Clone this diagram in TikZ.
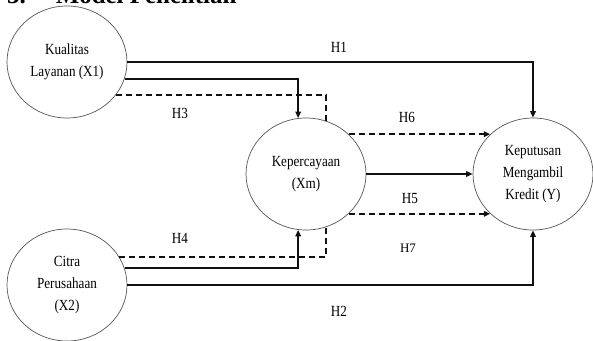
\documentclass[tikz,border=0pt]{standalone}
\usepackage{fontspec}
\setmainfont{Liberation Serif}
\newfontfamily\lblfont[FakeStretch=0.85]{Liberation Serif}
\usepackage{tikz}
\usetikzlibrary{arrows.meta,positioning,calc,shapes.geometric}
\definecolor{Ink}{HTML}{111111}
\definecolor{Rim}{HTML}{555555}

\begin{document}
\begin{tikzpicture}[x=1bp,y=-1bp,
  var/.style={ellipse,draw=Rim,line width=0.7bp,minimum width=120bp,minimum height=112bp,inner sep=0pt,align=center,font=\lblfont\fontsize{15.5}{22}\selectfont},
  arr/.style={-{Triangle[length=6.5bp,width=5.5bp]},draw=Ink,line width=2bp},
  lnk/.style={draw=Ink,line width=2bp},
  dsh/.style={dash pattern=on 6bp off 4bp},
  hyp/.style={font=\lblfont\fontsize{15.5}{18}\selectfont}]
\useasboundingbox (0,0) rectangle (593,340);
\node[anchor=base west,font=\bfseries\fontsize{25}{25}\selectfont,inner sep=0pt] (ttl) at (7,3) {3.\hspace{30bp}Model Penelitian};
\node[var] (kl) at (67,62) {Kualitas\\Layanan (X1)};
\node[var] (cp) at (67,285) {Citra\\Perusahaan\\(X2)};
\node[var] (kp) at (306,174) {Kepercayaan\\(Xm)};
\node[var] (kk) at (533,174) {Keputusan\\Mengambil\\Kredit (Y)};
% direct paths
\draw[arr] (kl.east) -| (kk.north);
\draw[arr] (cp.east) -| (kk.south);
\draw[arr] (kl.-16) -| (kp.98);
\draw[arr] (cp.16) -| (kp.-98);
\draw[arr] (kp.east) -- (kk.west);
% mediated paths
\draw[lnk,dsh] (kl.-34) -| (kp.69);
\draw[lnk,dsh] (cp.28) -| (kp.-69);
\draw[arr,dsh] (kp.43) -- (kk.137);
\draw[arr,dsh] (kp.-43) -- (kk.-137);
% labels
\node[hyp] (h1) at (339,47) {H1};
\node[hyp] (h2) at (339,311) {H2};
\node[hyp] (h3) at (180,113) {H3};
\node[hyp] (h4) at (180,238) {H4};
\node[hyp] (h5) at (410,199) {H5};
\node[hyp] (h6) at (407,117) {H6};
\node[font=\fontsize{13}{15}\selectfont] (h7) at (408,248) {H7};
\end{tikzpicture}
\end{document}
